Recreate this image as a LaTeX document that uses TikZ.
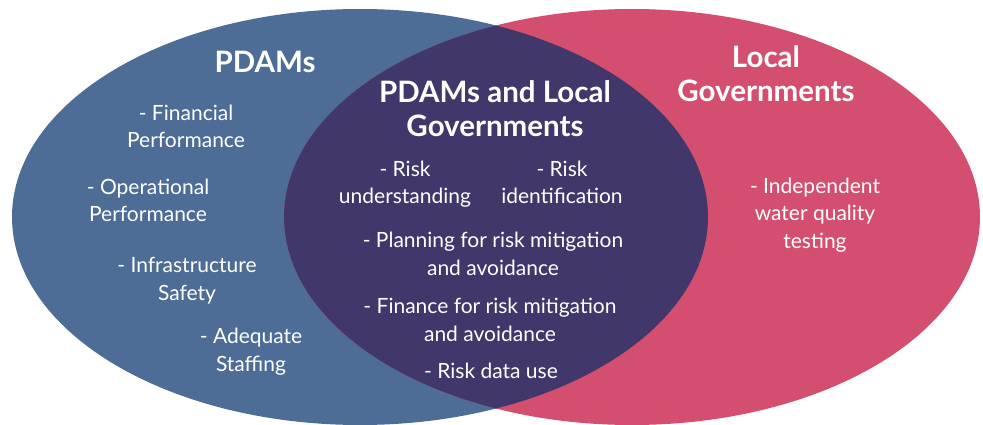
\documentclass[tikz,border=0pt]{standalone}
\usepackage{fontspec}
\setmainfont{Lato}
\begin{document}
\definecolor{pdamblue}{HTML}{4D6D97}
\definecolor{localpink}{HTML}{D44F6F}
\definecolor{sharedpurple}{HTML}{41376A}
\begin{tikzpicture}[x=1pt,y=-1pt,
  item/.style={text=white,align=center,anchor=base,inner sep=0pt,
    font=\fontsize{21}{27.5}\selectfont},
  heading/.style={text=white,align=center,anchor=base,inner sep=0pt,
    font=\bfseries\fontsize{29.5}{34}\selectfont}]
\useasboundingbox (0,0) rectangle (983,425);
\fill[white] (0,0) rectangle (983,425);
% the two sets and their overlap
\fill[pdamblue] (360,217) ellipse [x radius=348, y radius=208];
\fill[localpink] (632,217) ellipse [x radius=348, y radius=208];
\begin{scope}
  \clip (360,217) ellipse [x radius=348, y radius=208];
  \fill[sharedpurple] (632,217) ellipse [x radius=348, y radius=208];
\end{scope}
% headings (anchored at the baseline of their last line)
\node[heading] (pdams) at (265,73) {PDAMs};
\node[heading] (both) at (495,137) {PDAMs and Local\\Governments};
\node[heading] (local) at (766,102) {Local\\Governments};
% PDAM items
\node[item] (fin) at (186,148) {- Financial\\Performance};
\node[item] (ops) at (148,222) {- Operational\\Performance};
\node[item] (infra) at (187,300) {- Infrastructure\\Safety};
\node[item] (staff) at (251,371) {- Adequate\\Staffing};
% shared items
\node[item] (under) at (405,204) {- Risk\\understanding};
\node[item] (ident) at (562,204) {- Risk\\identification};
\node[item] (plan) at (493,275) {- Planning for risk mitigation\\and avoidance};
\node[item] (finance) at (490,341) {- Finance for risk mitigation\\and avoidance};
\node[item] (data) at (491,378) {- Risk data use};
% local government item
\node[item] (water) at (815,248) {- Independent\\water quality\\testing};
\end{tikzpicture}
\end{document}
